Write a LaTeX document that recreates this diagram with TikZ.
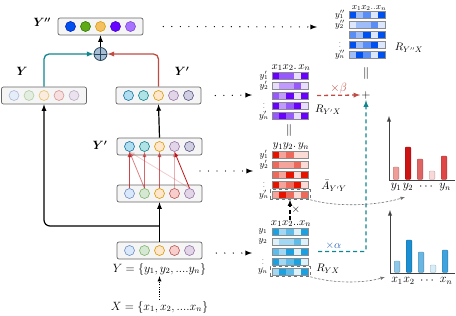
\documentclass[tikz,border=0pt]{standalone}
\usepackage{amsmath}
\usepackage{amssymb}
\usepackage{tikz}
\usetikzlibrary{arrows,positioning,calc}

% unit colours
\definecolor{sblue}{HTML}{0050EF}   \definecolor{sblueD}{HTML}{001DBC}
\definecolor{sgreen}{HTML}{60A917}  \definecolor{sgreenD}{HTML}{2D7600}
\definecolor{sorange}{HTML}{F5C062} \definecolor{sorangeD}{HTML}{D79B00}
\definecolor{sviolet}{HTML}{6A00FF} \definecolor{svioletD}{HTML}{3700CC}
\definecolor{spurple}{HTML}{A874FF} \definecolor{spurpleD}{HTML}{7A45D9}
\definecolor{pcyan}{HTML}{B1DDF0}   \definecolor{pcyanD}{HTML}{10739E}
\definecolor{pteal}{HTML}{B0E3E6}   \definecolor{ptealD}{HTML}{0E8088}
\definecolor{porange}{HTML}{FFE6CC} \definecolor{porangeD}{HTML}{D79B00}
\definecolor{plilac}{HTML}{E1D5E7}  \definecolor{plilacD}{HTML}{9673A6}
\definecolor{pslate}{HTML}{D0CEE2}  \definecolor{pslateD}{HTML}{56517E}
\definecolor{lblue}{HTML}{DAE8FC}   \definecolor{lblueD}{HTML}{6C8EBF}
\definecolor{lgreen}{HTML}{D5E8D4}  \definecolor{lgreenD}{HTML}{82B366}
\definecolor{lred}{HTML}{F8CECC}    \definecolor{lredD}{HTML}{B85450}
% heatmap levels
\definecolor{bb1}{HTML}{DCE7FD} \definecolor{bb2}{HTML}{9DBCF8} \definecolor{bb3}{HTML}{5A8EF4} \definecolor{bb4}{HTML}{0050EF}
\definecolor{pu1}{HTML}{E8DCFF} \definecolor{pu2}{HTML}{C09AFF} \definecolor{pu3}{HTML}{9858FF} \definecolor{pu4}{HTML}{6A00FF}
\definecolor{rd1}{HTML}{FCDAD6} \definecolor{rd2}{HTML}{F4A49B} \definecolor{rd3}{HTML}{EC6A5C} \definecolor{rd4}{HTML}{E51400}
\definecolor{cy1}{HTML}{DDF1FB} \definecolor{cy2}{HTML}{A2D8F3} \definecolor{cy3}{HTML}{5EBCEB} \definecolor{cy4}{HTML}{1BA1E2}
% lines and bars
\definecolor{tealc}{HTML}{12868F}
\definecolor{redc}{HTML}{BE4B44}
\definecolor{attnred}{HTML}{C0161B}
\definecolor{alphac}{HTML}{2A64B4}
\definecolor{sumfill}{HTML}{A9BDD2}
\definecolor{sumdraw}{HTML}{23445D}
\definecolor{rb1}{HTML}{F09C98} \definecolor{rb2}{HTML}{CC1414} \definecolor{rb3}{HTML}{E06464}
\definecolor{rb4}{HTML}{F8D8D8} \definecolor{rb5}{HTML}{E04646}
\definecolor{cb1}{HTML}{8EC8E8} \definecolor{cb2}{HTML}{1B8FD2} \definecolor{cb3}{HTML}{6AB6E3}
\definecolor{cb4}{HTML}{D6EDF8} \definecolor{cb5}{HTML}{3FA3DD}

\tikzset{
    layer/.style={draw=black!60, fill=black!4, rounded corners=2pt, minimum width=85pt, minimum height=17pt, line width=0.7pt},
    unit/.style={circle, minimum size=10pt, inner sep=0pt, line width=0.6pt},
    feed/.style={line width=1.2pt, -latex},
    sidepath/.style={line width=1.3pt, rounded corners=5pt, -latex},
    attn/.style={draw=attnred, line width=0.8pt, -latex},
    dotflow/.style={line width=1.3pt, line cap=round, dash pattern=on 0pt off 8.5pt, -latex},
    cellrow/.style={draw=black!45, line width=0.5pt},
    rowlab/.style={font=\small, inner sep=0pt},
    headlab/.style={font=\fontsize{11}{13}\selectfont, inner sep=0pt, anchor=south},
    namelab/.style={font=\fontsize{11}{13}\selectfont, inner sep=1pt},
    biglab/.style={font=\large, inner sep=1pt},
    gain/.style={line width=1.3pt, dash pattern=on 4pt off 3pt, -latex},
    hint/.style={draw=black!55, line width=0.6pt, dash pattern=on 2.5pt off 1.5pt, -latex},
    axisline/.style={draw=black!75, line width=0.9pt},
    bar/.style={line width=0.4pt},
    pick/.style={draw=black!55, dashed, line width=0.5pt, inner sep=0pt, minimum width=40pt, minimum height=10pt}
}

\begin{document}
\begin{tikzpicture}[x=1pt, y=-1pt]
    \useasboundingbox (0,0) rectangle (456,316);

    % Layers
    \node[layer] (ypp) at (100.5,26.5) {};
    \node[layer] (yfull) at (44,95.5) {};
    \node[layer] (yp) at (158.5,95.5) {};
    \node[layer] (ypl) at (159.5,146.5) {};
    \node[layer] (yatt) at (159.5,193.5) {};
    \node[layer] (yin) at (159.5,250.5) {};

    \foreach \i/\fc/\dc in {1/sblue/sblueD, 2/sgreen/sgreenD, 3/sorange/sorangeD, 4/sviolet/svioletD, 5/spurple/spurpleD}
        \node[unit, fill=\fc, draw=\dc] (ypp\i) at ($(ypp)+(\i*15-45,0)$) {};
    \foreach \i/\fc/\dc in {1/lblue/lblueD, 2/lgreen/lgreenD, 3/porange/porangeD, 4/lred/lredD, 5/plilac/plilacD} {
        \node[unit, fill=\fc, draw=\dc, opacity=0.55] (yfull\i) at ($(yfull)+(\i*15-45,0)$) {};
        \node[unit, fill=\fc, draw=\dc] (att\i) at ($(yatt)+(\i*15-45,0)$) {};
        \node[unit, fill=\fc, draw=\dc] (yin\i) at ($(yin)+(\i*15-45,0)$) {};
    }
    \foreach \i/\fc/\dc in {1/pcyan/pcyanD, 2/pteal/ptealD, 3/porange/porangeD, 4/plilac/plilacD, 5/pslate/pslateD} {
        \node[unit, fill=\fc, draw=\dc] (yp\i) at ($(yp)+(\i*15-45,0)$) {};
        \node[unit, fill=\fc, draw=\dc] (ypl\i) at ($(ypl)+(\i*15-45,0)$) {};
    }

    % Sum
    \node[circle, draw=sumdraw, fill=sumfill, minimum size=13pt, inner sep=0pt, line width=0.8pt] (sum) at (100.5,54) {};
    \draw[sumdraw, line width=0.8pt] (sum.north) -- (sum.south) (sum.west) -- (sum.east);

    % Labels
    \node[biglab] (lab-ypp) at (42,22) {$\boldsymbol{Y''}$};
    \node[biglab] (lab-y) at (22,71) {$\boldsymbol{Y}$};
    \node[biglab] (lab-yp) at (182,71) {$\boldsymbol{Y'}$};
    \node[biglab] (lab-ypl) at (100,145) {$\boldsymbol{Y'}$};
    \node[biglab] (ytext) at (159.5,269) {$Y=\{y_1,y_2,....y_n\}$};
    \node[biglab] (xtext) at (159.5,307) {$X=\{x_1,x_2,....x_n\}$};

    % Forward connections
    \draw[feed] (sum.north) -- (ypp.south);
    \draw[sidepath, tealc] (yfull.north) |- (sum.west);
    \draw[sidepath, redc] (yp.north) |- (sum.east);
    \draw[feed] (ypl.north) -- (yp.south);
    \coordinate (fork) at (159.5,226);
    \draw[line width=1.2pt] (yin.north) -- (fork);
    \draw[feed] (fork) -- (yatt.south);
    \draw[feed, rounded corners=6pt] (fork) -| (yfull.south);
    \draw[line width=0.8pt, dash pattern=on 1.2pt off 1.2pt, -latex] (xtext.north) -- (ytext.south);

    % Attention weights
    \foreach \a/\b/\op in {1/1/0.8, 2/1/0.55, 2/2/0.65, 3/3/0.7, 4/4/0.35, 5/1/0.22, 5/4/1}
        \draw[attn, opacity=\op] (att\a.north) -- (ypl\b.south);

    % R_{Y''X}
    \begin{scope}[shift={(349,11)}]
        \node[inner sep=0pt, minimum width=36pt, minimum height=47pt] (rpp) at (18,23.5) {};
        \foreach \row [count=\ri from 0] in {{4,2,3,1,4},{1,2,2,3,1},{3,2,4,1,4},{4,2,3,4,1},{2,4,3,1,4}} {
            \foreach \v [count=\ci from 0] in \row
                \fill[bb\v] (\ci*7.2,\ri*10) rectangle ++(7.2,7);
            \draw[cellrow] (0,\ri*10) rectangle ++(36,7);
        }
        \foreach \ri/\k in {0/1, 1/2, 4/n}
            \node[rowlab] at (-9,\ri*10+3.5) {$y''_{\k}$};
        \node[rowlab, font=\scriptsize] at (-9,33) {$\vdots$};
        \node[headlab, font=\small] (rpp-head) at (20,-0.5) {$x_1x_2..x_n$};
        \node[namelab] (rpp-name) at (60,37) {$R_{Y''X}$};
    \end{scope}

    % R_{Y'X}
    \begin{scope}[shift={(272,72)}]
        \node[inner sep=0pt, minimum width=36pt, minimum height=47pt] (rpx) at (18,23.5) {};
        \foreach \row [count=\ri from 0] in {{4,3,3,1,4},{1,2,2,3,1},{3,2,4,1,4},{4,2,3,4,1},{3,4,3,1,4}} {
            \foreach \v [count=\ci from 0] in \row
                \fill[pu\v] (\ci*7.2,\ri*10) rectangle ++(7.2,7);
            \draw[cellrow] (0,\ri*10) rectangle ++(36,7);
        }
        \foreach \ri/\k in {0/1, 1/2, 4/n}
            \node[rowlab] at (-8,\ri*10+3.5) {$y'_{\k}$};
        \node[rowlab, font=\scriptsize] at (-8,33) {$\vdots$};
        \node[headlab] (rpx-head) at (19,-1) {$x_1x_2.\,x_n$};
        \node[namelab] (rpx-name) at (56,38) {$R_{Y'X}$};
    \end{scope}

    % \bar A_{Y'Y}
    \begin{scope}[shift={(272,151)}]
        \node[inner sep=0pt, minimum width=36pt, minimum height=47pt] (abar) at (18,23.5) {};
        \foreach \row [count=\ri from 0] in {{4,2,3,1,1},{3,2,2,3,1},{3,2,4,1,4},{4,2,3,4,1},{2,4,3,1,3}} {
            \foreach \v [count=\ci from 0] in \row
                \fill[rd\v] (\ci*7.2,\ri*10) rectangle ++(7.2,7);
            \draw[cellrow] (0,\ri*10) rectangle ++(36,7);
        }
        \node[pick] (abar-n) at (18,43.5) {};
        \foreach \ri/\k in {0/1, 1/2, 4/n}
            \node[rowlab] at (-8,\ri*10+3.5) {$y'_{\k}$};
        \node[rowlab, font=\scriptsize] at (-8,33) {$\vdots$};
        \node[headlab] (abar-head) at (19,-1) {$y_1y_2.\,y_n$};
        \node[namelab] (abar-name) at (62,35) {$\bar{A}_{Y'Y}$};
    \end{scope}

    % R_{YX}
    \begin{scope}[shift={(272,228)}]
        \node[inner sep=0pt, minimum width=36pt, minimum height=47pt] (ryx) at (18,23.5) {};
        \foreach \row [count=\ri from 0] in {{4,2,3,1,4},{1,2,2,3,1},{3,2,4,1,4},{4,2,3,4,1},{2,4,3,1,4}} {
            \foreach \v [count=\ci from 0] in \row
                \fill[cy\v] (\ci*7.2,\ri*10) rectangle ++(7.2,7);
            \draw[cellrow] (0,\ri*10) rectangle ++(36,7);
        }
        \node[pick] (ryx-n) at (18,43.5) {};
        \foreach \ri/\k in {0/1, 1/2, 4/n}
            \node[rowlab] at (-9,\ri*10+3.5) {$y_{\k}$};
        \node[rowlab, font=\scriptsize] at (-9,33) {$\vdots$};
        \node[headlab] (ryx-head) at (19,-1) {$x_1x_2..x_n$};
        \node[namelab] (ryx-name) at (56,41) {$R_{YX}$};
    \end{scope}

    % Combination
    \node[biglab] (eq-top) at (366,73) {$\|$};
    \node[biglab] (eq-mid) at (289,130) {$\|$};
    \node[biglab] (plus) at (366,95) {$+$};
    \draw[gain, redc] ([xshift=9pt]rpx.east) -- (plus.west) node[midway, above, biglab, text=redc] {$\times\beta$};
    \draw[gain, tealc, rounded corners=2pt] ([xshift=10pt]ryx.east) -| (plus.south) node[pos=0.16, above, namelab, text=alphac] {$\times\alpha$};
    \draw[line width=1.1pt, dash pattern=on 4pt off 2.5pt, -latex] (abar-n.south |- ryx-head.north) -- (abar-n.south) node[midway, right, namelab] {$\times$};

    % Dotted flows
    \coordinate (rpp-in) at (317,27);
    \coordinate (rpx-in) at (252,95);
    \coordinate (att-out) at (200,171);
    \coordinate (abar-in) at (253,171);
    \coordinate (ryx-in) at (252,253);
    \draw[dotflow] ([xshift=20pt]ypp.east) -- (rpp-in);
    \draw[dotflow] ([xshift=14pt]yp.east) -- (rpx-in);
    \draw[dotflow] (att-out) -- (abar-in);
    \draw[dotflow] ([xshift=14pt]yin.east |- ryx-in) -- (ryx-in);

    % Bar charts
    \draw[axisline, -latex] (389,180) -- (389,116);
    \draw[axisline] (389,180) -- (455,180);
    \foreach \x/\t/\col in {396/167/rb1, 408/147/rb2, 420/159/rb3, 432/171/rb4, 444/156/rb5}
        \draw[bar, fill=\col, draw=\col!75!black, rounded corners=1pt] (\x-2.8,179.5) rectangle (\x+2.8,\t);
    \foreach \x/\txt in {396/y_1, 408/y_2, 427/\cdots, 445/y_n}
        \node[biglab] at (\x,187) {$\txt$};

    \draw[axisline, -latex] (390,273) -- (390,210);
    \draw[axisline] (390,273) -- (455,273);
    \foreach \x/\t/\col in {397/261/cb1, 409/240/cb2, 421/252/cb3, 433/265/cb4, 445/250/cb5}
        \draw[bar, fill=\col, draw=\col!75!black, rounded corners=1pt] (\x-2.8,272.5) rectangle (\x+2.8,\t);
    \foreach \x/\txt in {397/x_1, 409/x_2, 428/\cdots, 446/x_n}
        \node[biglab] at (\x,281) {$\txt$};

    % Selected rows to charts
    \coordinate (achart-in) at (405,197);
    \coordinate (rchart-in) at (385,277);
    \draw[hint] (abar-n.south east) .. controls (340,208) and (380,205) .. (achart-in);
    \draw[hint] (ryx-n.south east) .. controls (335,284) and (365,283) .. (rchart-in);
\end{tikzpicture}
\end{document}
